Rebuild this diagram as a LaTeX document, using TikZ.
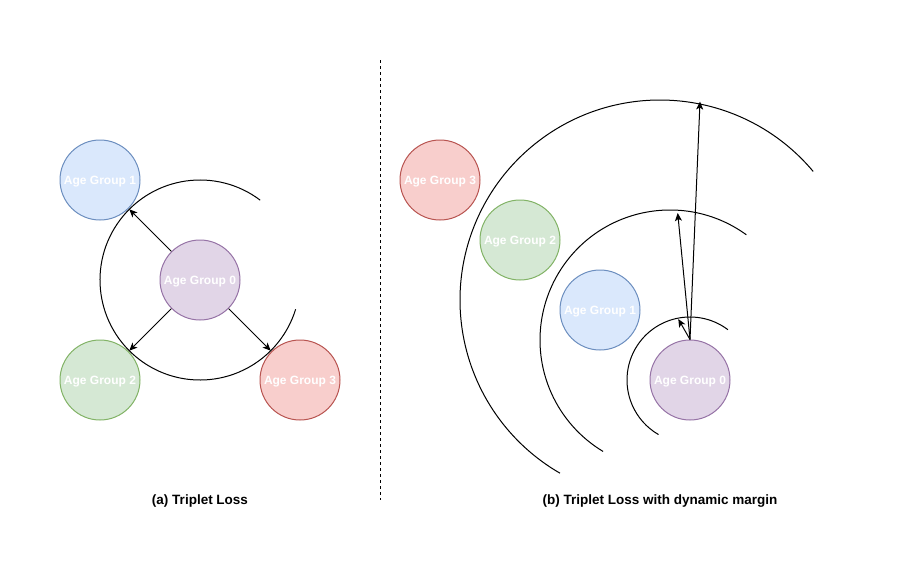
\documentclass[tikz,border=0pt]{standalone}
\usepackage{fontspec}
\setmainfont{Liberation Sans}
\usetikzlibrary{arrows.meta}
\definecolor{bluefill}{HTML}{DAE8FC}\definecolor{bluedraw}{HTML}{6C8EBF}
\definecolor{greenfill}{HTML}{D5E8D4}\definecolor{greendraw}{HTML}{82B366}
\definecolor{redfill}{HTML}{F8CECC}\definecolor{reddraw}{HTML}{B85450}
\definecolor{purplefill}{HTML}{E1D5E7}\definecolor{purpledraw}{HTML}{9673A6}
\begin{document}
\begin{tikzpicture}[x=1pt,y=-1pt,line width=1pt,
  grp/.style={circle,minimum size=80pt,inner sep=0pt,text=white,
    text height=8.6pt,text depth=0pt,
    font=\fontsize{12}{14}\selectfont\bfseries},
  blueg/.style={grp,fill=bluefill,draw=bluedraw},
  greeng/.style={grp,fill=greenfill,draw=greendraw},
  redg/.style={grp,fill=redfill,draw=reddraw},
  purpleg/.style={grp,fill=purplefill,draw=purpledraw},
  marc/.style={draw=black,line width=1pt},
  arr/.style={-{Stealth[length=8pt,width=7pt,inset=2pt]},line width=1pt},
  captext/.style={font=\fontsize{13.5}{16}\selectfont\bfseries}]
\path[fill=white] (0,0) rectangle (921,571);
\useasboundingbox (0,0) rectangle (921,571);
% separator
\coordinate (sepTop) at (380,60);
\coordinate (sepBot) at (380,500);
\draw[dash pattern=on 3pt off 3pt] (sepTop) -- (sepBot);
% left panel
\path[marc] (200,280) ++(-53:100) arc[start angle=-53,end angle=-343,radius=100];
\node[blueg] (l1) at (100,180) {Age Group 1};
\node[greeng] (l2) at (100,380) {Age Group 2};
\node[redg] (l3) at (300,380) {Age Group 3};
\node[purpleg] (l0) at (200,280) {Age Group 0};
\path (l0.center) ++(-135:100) coordinate (t1);
\path (l0.center) ++(135:100) coordinate (t2);
\path (l0.center) ++(45:100) coordinate (t3);
\draw[arr] (l0) -- (t1);
\draw[arr] (l0) -- (t2);
\draw[arr] (l0) -- (t3);
% right panel
\path[marc] (690,380) ++(-53:63) arc[start angle=-53,end angle=-240,radius=63];
\path[marc] (670,340) ++(-54:130) arc[start angle=-54,end angle=-239,radius=130];
\path[marc] (660,300) ++(-40:200) arc[start angle=-40,end angle=-240,radius=200];
\node[redg] (r3) at (440,180) {Age Group 3};
\node[greeng] (r2) at (520,240) {Age Group 2};
\node[blueg] (r1) at (600,310) {Age Group 1};
\node[purpleg] (r0) at (690,380) {Age Group 0};
\coordinate (u1) at (678.3,319);
\coordinate (u2) at (677.7,213);
\coordinate (u3) at (700,101.5);
\draw[arr] (r0.north) -- (u1);
\draw[arr] (r0.north) -- (u2);
\draw[arr] (r0.north) -- (u3);
% captions
\node[captext] (capA) at (200,501) {(a) Triplet Loss};
\node[captext] (capB) at (660,501) {(b) Triplet Loss with dynamic margin};
\end{tikzpicture}
\end{document}
